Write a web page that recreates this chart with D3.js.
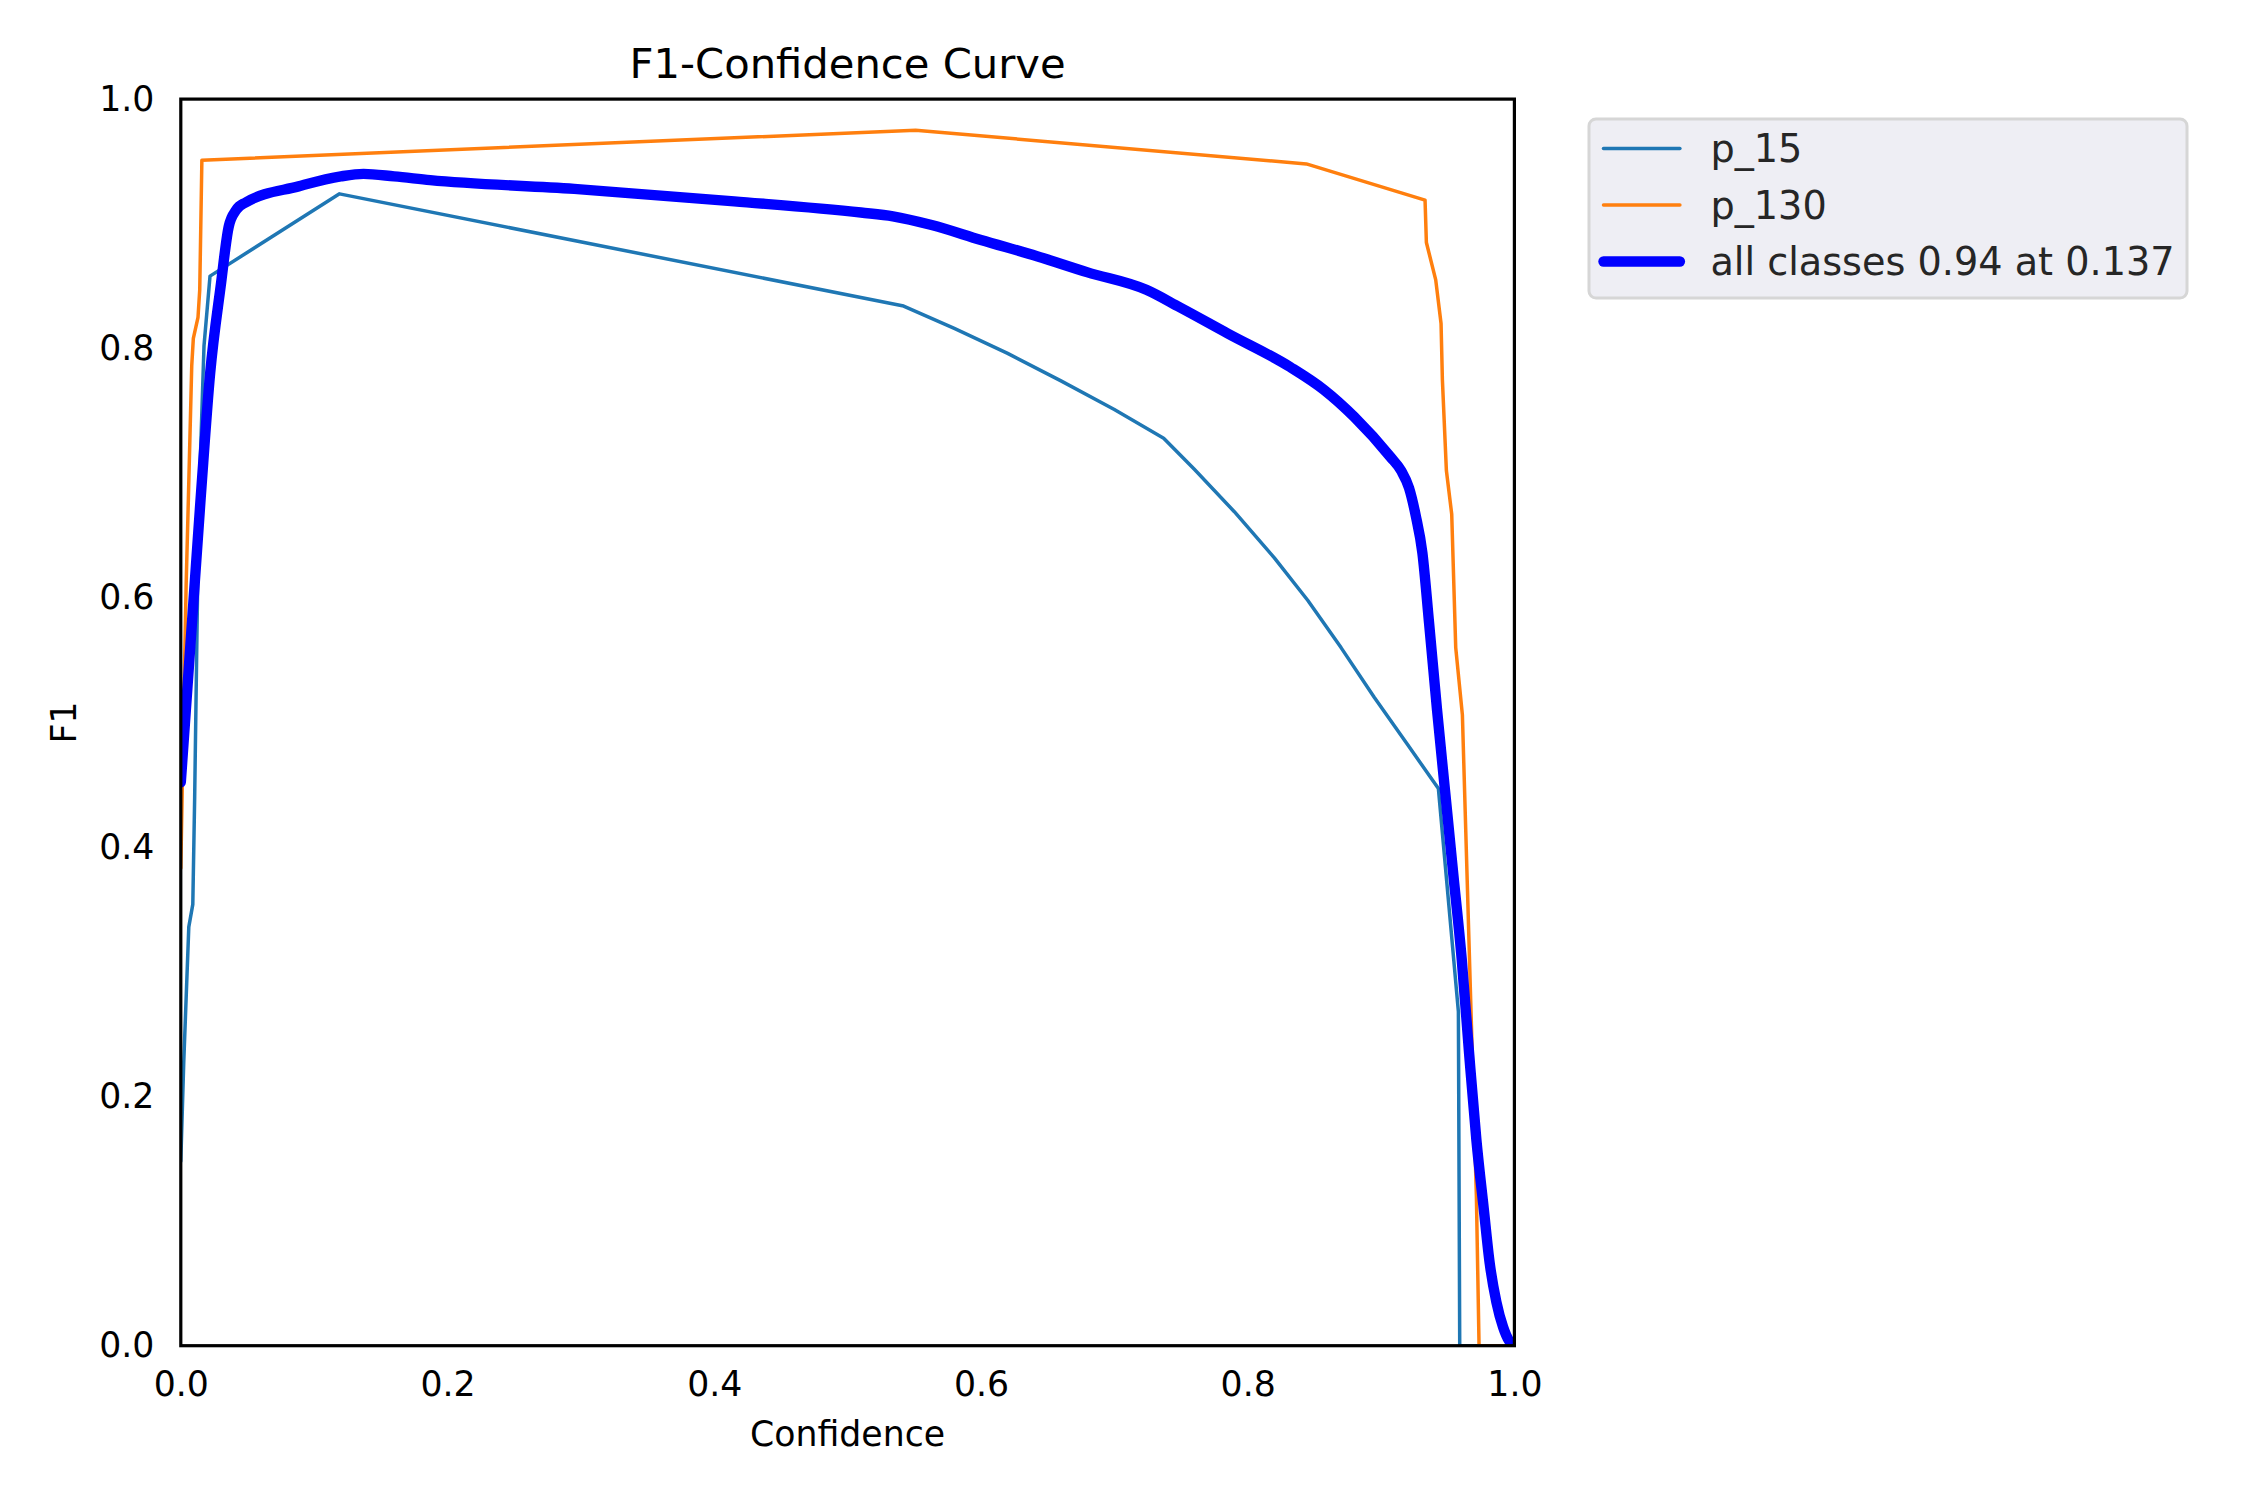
<!DOCTYPE html>
<html>
<head>
<meta charset="utf-8">
<script src="https://cdn.jsdelivr.net/npm/d3@7/dist/d3.min.js"></script>
<style>
	body { margin: 0; background: #fff; }
	svg { display: block; }
</style>
</head>
<body>
<div id="chart"></div>
<script>

	"use strict";

	// values
	var p15Conf = [0, 0.0022, 0.006, 0.009, 0.0104, 0.0125, 0.0137, 0.0174, 0.0219, 0.119, 0.542, 0.58, 0.62, 0.66, 0.70, 0.737, 0.76, 0.79, 0.82, 0.845, 0.87, 0.895, 0.92, 0.943, 0.958, 0.959, 1.0];
	var p15F1   = [0.148, 0.227, 0.336, 0.354, 0.44, 0.60, 0.68, 0.802, 0.858, 0.924, 0.834, 0.816, 0.796, 0.774, 0.751, 0.728, 0.703, 0.669, 0.632, 0.598, 0.560, 0.520, 0.482, 0.447, 0.268, 0.0, 0.0];

	var p130Conf = [0, 0.002, 0.004, 0.0057, 0.0082, 0.0094, 0.0129, 0.0142, 0.0158, 0.551, 0.844, 0.933, 0.934, 0.941, 0.945, 0.946, 0.949, 0.953, 0.956, 0.961, 0.9715, 0.9735, 1.0];
	var p130F1   = [0.383, 0.50, 0.61, 0.68, 0.786, 0.808, 0.825, 0.847, 0.951, 0.975, 0.948, 0.919, 0.885, 0.855, 0.820, 0.775, 0.702, 0.667, 0.56, 0.506, 0.12, 0.0, 0.0];

	var allConf = [0, 0.0149, 0.022, 0.0299, 0.036, 0.0415, 0.0485, 0.0883, 0.12, 0.137, 0.16, 0.187, 0.295, 0.415, 0.51, 0.534, 0.563, 0.60, 0.642, 0.68, 0.724, 0.749, 0.785, 0.832, 0.857, 0.88, 0.907, 0.915, 0.921, 0.926, 0.931, 0.936, 0.942, 0.948, 0.954, 0.9605, 0.966, 0.9715, 0.977, 0.9815, 0.9865, 0.9915, 0.996, 1.0];
	var allF1   = [0.452, 0.68, 0.78, 0.850, 0.898, 0.911, 0.917, 0.930, 0.938, 0.940, 0.938, 0.935, 0.928, 0.918, 0.909, 0.906, 0.899, 0.887, 0.874, 0.861, 0.847, 0.833, 0.812, 0.785, 0.767, 0.745, 0.713, 0.702, 0.688, 0.666, 0.636, 0.58, 0.51, 0.445, 0.38, 0.31, 0.235, 0.165, 0.11, 0.066, 0.035, 0.015, 0.004, 0.0];

	var xTicks = [0, 0.2, 0.4, 0.6, 0.8, 1.0];
	var yTicks = [0, 0.2, 0.4, 0.6, 0.8, 1.0];

	var seriesNames  = ["p_15", "p_130", "all classes 0.94 at 0.137"];
	var seriesColors = ["#1f77b4", "#ff7f0e", "#0000ff"];

	var width  = 2250;
	var height = 1500;
	var plotLeft = 180.8, plotRight = 1514.4, plotTop = 99.1, plotBottom = 1345.7;
	var font = "DejaVu Sans, Liberation Sans, sans-serif";

	var series = [
		{name: seriesNames[0], color: seriesColors[0], lw: 3.5, pts: d3.zip(p15Conf, p15F1), curve: d3.curveLinear},
		{name: seriesNames[1], color: seriesColors[1], lw: 3.5, pts: d3.zip(p130Conf, p130F1), curve: d3.curveLinear},
		{name: seriesNames[2], color: seriesColors[2], lw: 10.4, pts: d3.zip(allConf, allF1), curve: d3.curveMonotoneX}
	];

	var x = d3.scaleLinear().domain([0, 1]).range([plotLeft, plotRight]);
	var y = d3.scaleLinear().domain([0, 1]).range([plotBottom, plotTop]);

	var svg = d3.select("#chart")
				.append("svg")
				.attr("width", width)
				.attr("height", height)
				.attr("viewBox", "0 0 " + width + " " + height);

	svg.append("rect")
			.attr("width", width)
			.attr("height", height)
			.style("fill", "white");

	svg.append("clipPath")
			.attr("id", "plotclip")
			.append("rect")
			.attr("x", plotLeft)
			.attr("y", plotTop)
			.attr("width", plotRight - plotLeft)
			.attr("height", plotBottom - plotTop);

	//curves
	var line = function(s){
		return d3.line()
				.curve(s.curve)
				.x(function(d){return x(d[0])})
				.y(function(d){return y(d[1])})(s.pts);
	};

	svg.append("g")
			.attr("clip-path", "url(#plotclip)")
			.selectAll("path.curve")
			.data(series)
			.enter()
			.append("path")
			.attr("class", "curve")
			.attr("d", line)
			.style("fill", "none")
			.style("stroke", function(d){return d.color})
			.style("stroke-width", function(d){return d.lw})
			.style("stroke-linejoin", "round")
			.style("stroke-linecap", "round");

	//axes, no tick marks, only labels
	var xAxis = svg.append("g")
			.attr("transform", "translate(0," + plotBottom + ")")
			.call(d3.axisBottom(x).tickValues(xTicks).tickSize(0).tickPadding(26).tickFormat(d3.format(".1f")));

	var yAxis = svg.append("g")
			.attr("transform", "translate(" + plotLeft + ",0)")
			.call(d3.axisLeft(y).tickValues(yTicks).tickSize(0).tickPadding(26.5).tickFormat(d3.format(".1f")));

	[xAxis, yAxis].forEach(function(a){
		a.select(".domain").remove();
		a.selectAll("text")
			.attr("font-family", font)
			.style("font-size", "34.7px")
			.style("fill", "black");
	});

	//frame
	svg.append("rect")
			.attr("x", plotLeft)
			.attr("y", plotTop)
			.attr("width", plotRight - plotLeft)
			.attr("height", plotBottom - plotTop)
			.style("fill", "none")
			.style("stroke", "black")
			.style("stroke-width", 3.2);

	svg.append("text")
			.attr("x", (plotLeft + plotRight) / 2)
			.attr("y", 77.6)
			.attr("text-anchor", "middle")
			.attr("font-family", font)
			.style("font-size", "41.7px")
			.style("fill", "black")
			.text("F1-Confidence Curve");

	svg.append("text")
			.attr("x", (plotLeft + plotRight) / 2)
			.attr("y", 1446)
			.attr("text-anchor", "middle")
			.attr("font-family", font)
			.style("font-size", "34.7px")
			.style("fill", "black")
			.text("Confidence");

	svg.append("text")
			.attr("transform", "translate(75.6," + ((plotTop + plotBottom) / 2) + ") rotate(-90)")
			.attr("text-anchor", "middle")
			.attr("font-family", font)
			.style("font-size", "34.7px")
			.style("fill", "black")
			.text("F1");

	//legend
	var lx = 1589, ly = 119, lw = 598, lh = 179;
	var rowgap = 56.5;
	var legendsize = 38.2;

	var legend = svg.append("g").attr("class", "legend");

	legend.append("rect")
			.attr("x", lx)
			.attr("y", ly)
			.attr("width", lw)
			.attr("height", lh)
			.attr("rx", 7)
			.attr("ry", 7)
			.style("fill", "#eeeef4")
			.style("stroke", "#d6d6d6")
			.style("stroke-width", 3);

	var item = legend.selectAll("g.item")
			.data(series)
			.enter()
			.append("g")
			.attr("class", "item")
			.attr("transform", function(d, i){return "translate(0," + (ly + 29.5 + i * rowgap) + ")"});

	item.append("line")
			.attr("x1", lx + 14.5)
			.attr("x2", lx + 14.5 + 2 * legendsize)
			.attr("y1", 0)
			.attr("y2", 0)
			.style("stroke", function(d){return d.color})
			.style("stroke-width", function(d){return d.lw})
			.style("stroke-linecap", "round");

	item.append("text")
			.attr("x", lx + 14.5 + 2.8 * legendsize)
			.attr("y", 0)
			.attr("dy", "0.36em")
			.attr("font-family", font)
			.style("font-size", legendsize + "px")
			.style("fill", "#262626")
			.text(function(d){return d.name});

</script>
</body>
</html>
